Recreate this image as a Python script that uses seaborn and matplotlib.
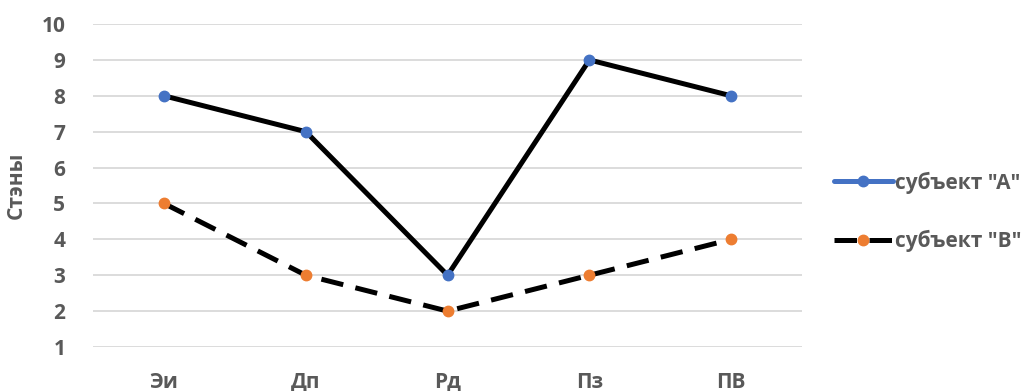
import matplotlib
matplotlib.use("Agg")
import matplotlib.pyplot as plt
from matplotlib.lines import Line2D
import seaborn as sns
import pandas as pd

categories = ["Эи", "Дп", "Рд", "Пз", "ПВ"]
series_a = [8, 7, 3, 9, 8]
series_b = [5, 3, 2, 3, 4]
name_a = 'субъект "А"'
name_b = 'субъект "В"'
y_ticks = list(range(1, 11))

sns.set_theme(style="white")
plt.rcParams['font.family'] = ['Open Sans', 'DejaVu Sans']
plt.rcParams['font.weight'] = 'bold'

grey = "#595959"
blue = "#4472C4"
orange = "#ED7D31"

df = pd.DataFrame({
    "cat": categories * 2,
    "x": list(range(len(categories))) * 2,
    "val": series_a + series_b,
    "s": [name_a] * len(categories) + [name_b] * len(categories),
})

fig = plt.figure(figsize=(10.35, 3.91), dpi=100)
ax = fig.add_axes([0.090, 0.1125, 0.685, 0.826])

sns.lineplot(data=df[df.s == name_a], x="x", y="val", ax=ax, color="black",
             lw=3.6, legend=False, zorder=3)
sns.lineplot(data=df[df.s == name_b], x="x", y="val", ax=ax, color="black",
             lw=3.6, legend=False, zorder=3, linestyle=(0, (4.5, 2.5)))
ax.plot(df[df.s == name_a].x, df[df.s == name_a].val, 'o', color=blue, ms=7.5, zorder=4)
ax.plot(df[df.s == name_b].x, df[df.s == name_b].val, 'o', color=orange, ms=7.5, zorder=4)

ax.set_xlim(-0.5, len(categories) - 0.5)
ax.set_ylim(1, 10)
ax.set_yticks(y_ticks)
ax.set_xticks(range(len(categories)))
ax.set_xticklabels(categories)
ax.yaxis.grid(True, color="#D9D9D9", lw=1.3)
ax.set_axisbelow(True)
for sp in ax.spines.values():
    sp.set_visible(False)
ax.tick_params(axis='both', length=0, labelsize=15, labelcolor=grey)
ax.tick_params(axis='x', pad=18)
ax.tick_params(axis='y', pad=20)
for lbl in ax.get_xticklabels() + ax.get_yticklabels():
    lbl.set_fontweight("bold")
ax.set_xlabel("")
ax.set_ylabel("Стэны", fontsize=15, fontweight="bold", color=grey)
ax.yaxis.set_label_coords(-0.093, 0.5)

h_a = Line2D([], [], color=blue, lw=3.6, marker='o', ms=7.5)
h_b = Line2D([], [], color="black", lw=3.6, marker='o', ms=7.5, mfc=orange, mec=orange,
             linestyle=(0, (4.5, 2.5)))
leg = fig.legend([h_a, h_b], [name_a, name_b], loc="center left",
                 bbox_to_anchor=(0.788, 0.458), frameon=False, handlelength=2.8,
                 handletextpad=0.1, labelspacing=1.75, fontsize=15)
for t in leg.get_texts():
    t.set_color(grey)
    t.set_fontweight("bold")

fig.savefig("out.png", dpi=100)
